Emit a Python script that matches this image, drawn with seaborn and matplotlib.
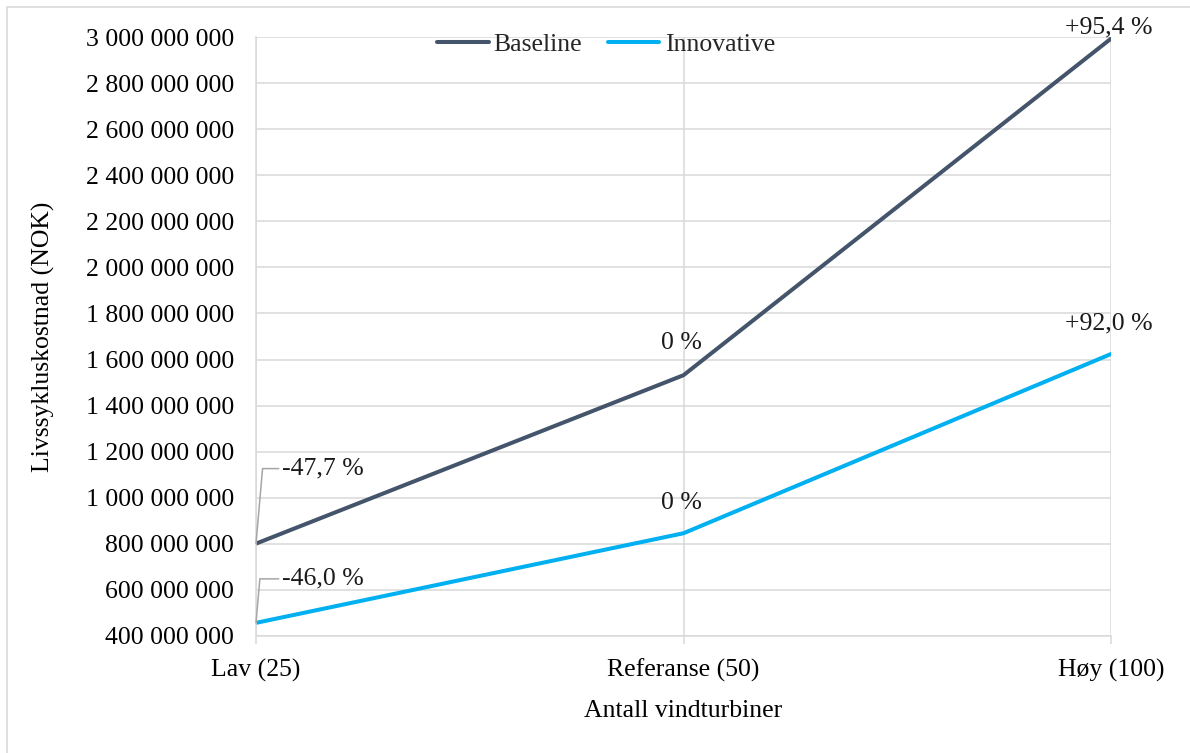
import matplotlib
matplotlib.use("Agg")
import matplotlib.pyplot as plt
import matplotlib.ticker as mticker
from matplotlib.patches import Rectangle
import seaborn as sns
import pandas as pd

# Scenario categories and life-cycle cost (NOK) per concept
categories = ["Lav (25)", "Referanse (50)", "Høy (100)"]
baseline = [801e6, 1532e6, 2993e6]
innovative = [457e6, 846e6, 1624e6]
baseline_labels = ["-47,7 %", "0 %", "+95,4 %"]
innovative_labels = ["-46,0 %", "0 %", "+92,0 %"]
series_names = ["Baseline", "Innovative"]

sns.set_theme(style="white")
plt.rcParams["font.family"] = ["Liberation Serif", "DejaVu Serif"]
plt.rcParams["axes.unicode_minus"] = False

FS = 18.5
GRID = "#D9D9D9"
colors = {"Baseline": "#44546A", "Innovative": "#00B0F0"}

df = pd.DataFrame({
    "Scenario": categories * 2,
    "Kostnad": baseline + innovative,
    "Serie": [series_names[0]] * 3 + [series_names[1]] * 3,
})

fig = plt.figure(figsize=(11.9, 7.53), dpi=100)
ax = fig.add_axes([256 / 1190, 1 - 636 / 753, (1111 - 256) / 1190, (636 - 37) / 753])

sns.lineplot(data=df, x="Scenario", y="Kostnad", hue="Serie", palette=colors,
             linewidth=2.9, ax=ax, sort=False, legend=True)

ax.set_xlim(0, 2)
ax.set_ylim(400e6, 3000e6)
ax.yaxis.set_major_locator(mticker.MultipleLocator(200e6))
ax.yaxis.set_major_formatter(
    mticker.FuncFormatter(lambda v, p: f"{int(round(v)):,}".replace(",", " ")))

ax.grid(True, axis="both", color=GRID, linewidth=1.1)
ax.set_axisbelow(True)
for side in ["top", "right"]:
    ax.spines[side].set_visible(False)
for side in ["left", "bottom"]:
    ax.spines[side].set_color(GRID)
    ax.spines[side].set_linewidth(1.1)

ax.tick_params(axis="x", direction="out", length=5.5, width=1.1, color=GRID,
               pad=11, labelsize=FS, labelcolor="black")
ax.tick_params(axis="y", length=0, pad=16, labelsize=FS, labelcolor="black")
ax.xaxis.set_ticks_position("bottom")

ax.set_xlabel("Antall vindturbiner", fontsize=FS, color="black", labelpad=13)
ax.set_ylabel("Livssykluskostnad (NOK)", fontsize=FS, color="black", labelpad=22)

# Data labels: percentage change relative to the reference scenario
leader = dict(arrowstyle="-", color="#A6A6A6", lw=1.1,
              connectionstyle="angle,angleA=0,angleB=85,rad=0",
              shrinkA=0, shrinkB=0, relpos=(0, 0.5))
for vals, labs, dy_first, dy_others in [
    (baseline, baseline_labels, 75, [32, 11]),
    (innovative, innovative_labels, 44, [30, 31]),
]:
    # first point carries a leader line to its label
    ax.annotate(labs[0], xy=(0, vals[0]), xytext=(26, dy_first),
                textcoords="offset pixels", ha="left", va="center",
                fontsize=FS, color="#1a1a1a", arrowprops=leader)
    for i, dy in zip([1, 2], dy_others):
        ax.annotate(labs[i], xy=(i, vals[i]), xytext=(-2, dy),
                    textcoords="offset pixels", ha="center", va="center",
                    fontsize=FS, color="#1a1a1a")

leg = ax.legend(loc="center", bbox_to_anchor=(606 / 1190, 1 - 45 / 753),
                bbox_transform=fig.transFigure, ncol=2, frameon=False,
                fontsize=FS, handlelength=2.0, handletextpad=0.2,
                columnspacing=1.0, borderaxespad=0)
for h in leg.get_lines():
    h.set_linewidth(2.9)

# Chart-area border
fig.patches.append(Rectangle((7 / 1190, -0.2), 1.2, 1.2 - 7 / 753,
                             transform=fig.transFigure, fill=False,
                             edgecolor=GRID, linewidth=1.2))

fig.savefig("out.png", dpi=100)
